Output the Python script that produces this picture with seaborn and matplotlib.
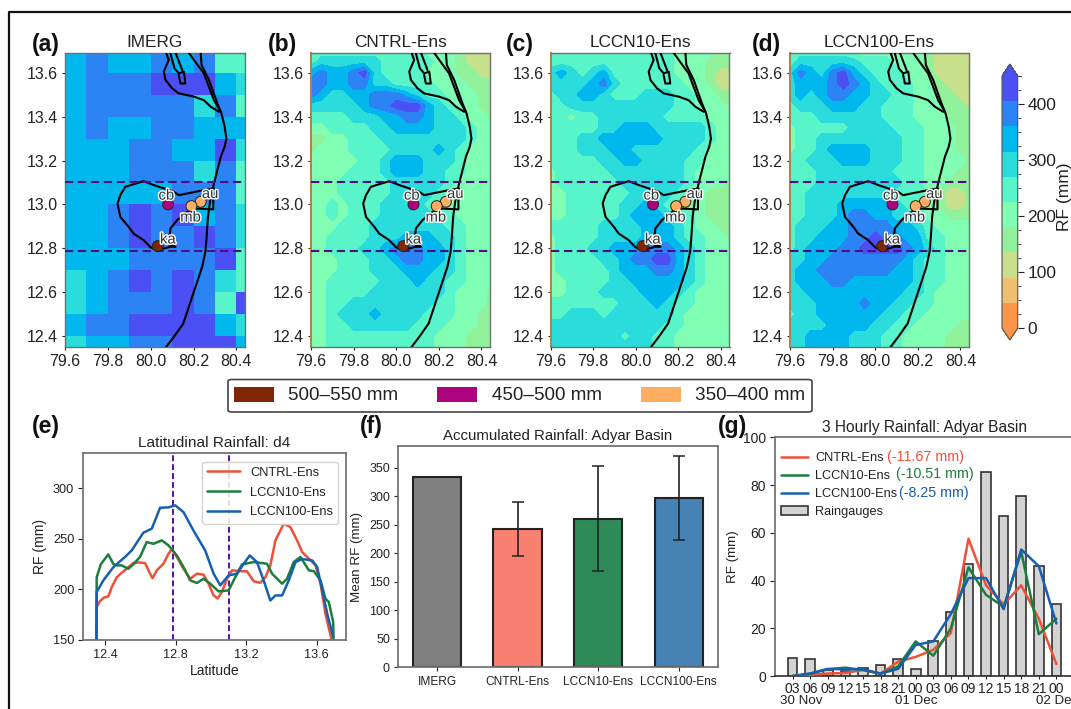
import numpy as np
import matplotlib
matplotlib.use("Agg")
import matplotlib.pyplot as plt
import matplotlib.patheffects as pe
from matplotlib.colors import ListedColormap, BoundaryNorm
from matplotlib.lines import Line2D
from matplotlib.patches import FancyBboxPatch
from matplotlib.ticker import MultipleLocator
import seaborn as sns

# ---------- data ----------
map_levels = [0, 45, 90, 135, 180, 225, 270, 315, 360, 405, 450]
map_colors = ['#FF9548', '#F0C070', '#C8DF8C', '#92F29C', '#80FFB4',
              '#57F5C9', '#2ADCDC', '#00B8EE', '#2C84F4', '#4B50F5']
map_titles = ['IMERG', 'CNTRL-Ens', 'LCCN10-Ens', 'LCCN100-Ens']

imerg_lon_edges = [79.6, 79.7, 79.8, 79.9, 80.0, 80.1, 80.2, 80.3, 80.4, 80.5]
imerg_lat_edges = [13.7, 13.6, 13.5, 13.4, 13.3, 13.2, 13.1, 13.0, 12.9, 12.8, 12.7, 12.6, 12.5, 12.4, 12.3]
imerg_rf = [
    [340, 380, 340, 340, 380, 340, 380, 250, 250],
    [340, 380, 380, 380, 430, 430, 430, 340, 290],
    [340, 380, 380, 380, 380, 380, 290, 380, 250],
    [340, 380, 340, 340, 380, 380, 340, 340, 340],
    [340, 340, 340, 380, 380, 340, 340, 430, 290],
    [340, 340, 340, 380, 380, 380, 290, 380, 250],
    [340, 340, 340, 340, 340, 380, 380, 380, 250],
    [340, 340, 380, 430, 380, 430, 340, 380, 290],
    [340, 340, 380, 430, 380, 380, 430, 380, 290],
    [340, 340, 340, 380, 380, 380, 380, 430, 250],
    [290, 340, 380, 430, 380, 430, 380, 290, 250],
    [290, 340, 380, 380, 380, 430, 380, 250, 430],
    [340, 380, 380, 430, 430, 430, 430, 340, 290],
    [290, 340, 340, 380, 380, 430, 430, 430, 340],
]

# model fields: each digit is the colour-class index of a 0.05 degree cell
grid_lon = [79.6, 79.65, 79.7, 79.75, 79.8, 79.85, 79.9, 79.95, 80.0, 80.05, 80.1, 80.15, 80.2, 80.25, 80.3, 80.35, 80.4, 80.45]
grid_lat = [13.7, 13.65, 13.6, 13.55, 13.5, 13.45, 13.4, 13.35, 13.3, 13.25, 13.2, 13.15, 13.1, 13.05, 13.0, 12.95, 12.9, 12.85, 12.8, 12.75, 12.7, 12.65, 12.6, 12.55, 12.5, 12.45, 12.4, 12.35]
cntrl_classes = [
    "455555555554443222", "566666655555443222", "787789655554443322", "887788665555444333",
    "876677888765544433", "666667889997654433", "555566677887665443", "445555667777666544",
    "334455566666666544", "344455556666765444", "444445567776665444", "444455567776655444",
    "444555556666654444", "444555556666544444", "445455566665544444", "445455566666554444",
    "444555666666655444", "445555666777665444", "445556678887765444", "444555667887765444",
    "444555666777665444", "445555566676655444", "445555666666654443", "445566666666554443",
    "445666766665554433", "445566666655544433", "445555555555444333", "445555555555444333",
]
lccn10_classes = [
    "555555555555444433", "555555555555444333", "676567555555444322", "666678655555544322",
    "566776555666554433", "556666666666554443", "554556666665555444", "555556677766666544",
    "555667777776666544", "555666776666665444", "555556677666655444", "455555666666654444",
    "455555566666654443", "445555556666544333", "445555566765544333", "445555567776554333",
    "555556666777654433", "455556666777655443", "455566777888765444", "455556678899765444",
    "455555677788765444", "445555667777765444", "445556666777654444", "555555566676554444",
    "556665666666544444", "666666666665544444", "666666656655444444", "666666666655444444",
]
lccn100_classes = [
    "455555444444432222", "566666655544432222", "687689765554432222", "677789876555443222",
    "676788776655443322", "566677766555444332", "555666666555444333", "455555666655544433",
    "455666666665544433", "455677776665544433", "556667776665544443", "555666666655544433",
    "555666666665544333", "556666666655543223", "556667777765543223", "556667887766544333",
    "566677888877654444", "566777889887755444", "567778899998765444", "667788888887655444",
    "677888888877655444", "677788777777655444", "667777777776654444", "666777787766554444",
    "566777777665544444", "666677776655444433", "667777666554444333", "667777666554444333",
]

coast_lon = [80.233, 80.2375, 80.272, 80.311, 80.33, 80.345, 80.353, 80.345, 80.327, 80.311, 80.295, 80.28, 80.267, 80.261, 80.255, 80.24, 80.209, 80.178, 80.152, 80.108, 80.072]
coast_lat = [13.691, 13.635, 13.567, 13.46, 13.415, 13.354, 13.30, 13.263, 13.217, 13.156, 13.095, 13.035, 12.943, 12.852, 12.784, 12.715, 12.624, 12.533, 12.457, 12.396, 12.35]
barrier_lon = [80.178, 80.202, 80.248, 80.295, 80.327]
barrier_lat = [13.691, 13.658, 13.597, 13.475, 13.422]
lake_lon = [80.072, 80.084, 80.061, 80.069, 80.1, 80.131, 80.202, 80.248, 80.28, 80.319]
lake_lat = [13.691, 13.658, 13.605, 13.567, 13.529, 13.506, 13.491, 13.475, 13.445, 13.422]
island_lon = [80.092, 80.111, 80.131, 80.155, 80.162, 80.139, 80.131]
island_lat = [13.688, 13.62, 13.597, 13.605, 13.551, 13.551, 13.589]
island2_lon = [80.116, 80.147]
island2_lat = [13.691, 13.612]
basin_lon = [80.295, 80.233, 80.186, 80.131, 80.108, 80.061, 80.014, 79.967, 79.92, 79.881, 79.858, 79.845, 79.858, 79.897, 79.92, 79.967, 80.0, 80.03, 80.092, 80.116, 80.084, 80.092, 80.123, 80.17, 80.217, 80.292, 80.292]
basin_lat = [13.073, 13.062, 13.053, 13.042, 13.057, 13.073, 13.088, 13.106, 13.092, 13.08, 13.042, 13.004, 12.943, 12.898, 12.867, 12.837, 12.804, 12.791, 12.807, 12.807, 12.819, 12.89, 12.928, 12.966, 12.981, 12.977, 13.05]

station_names = ['cb', 'au', 'mb', 'ka']
station_lon = [80.081, 80.233, 80.19, 80.033]
station_lat = [13.0, 13.012, 12.992, 12.81]
station_colors = ['#AE017E', '#FDAE61', '#FDAE61', '#7F2704']
label_lon = [80.073, 80.277, 80.186, 80.08]
label_lat = [13.04, 13.047, 12.94, 12.84]
basin_south, basin_north = 12.787, 13.1

legend_labels = ['500–550 mm', '450–500 mm', '350–400 mm']
legend_colors = ['#7F2704', '#AE017E', '#FDAE61']

cntrl_lat = [12.35, 12.351, 12.37, 12.392, 12.417, 12.436, 12.465, 12.493, 12.521, 12.559, 12.588, 12.626, 12.645, 12.668, 12.692, 12.73, 12.759, 12.778, 12.806, 12.844, 12.882, 12.92, 12.958, 12.986, 13.015, 13.038, 13.062, 13.091, 13.119, 13.167, 13.205, 13.243, 13.28, 13.309, 13.337, 13.366, 13.413, 13.451, 13.489, 13.518, 13.556, 13.594, 13.622, 13.65, 13.685]
cntrl_line = [150, 182.6, 188.5, 191.8, 193, 202, 212, 216.4, 220.4, 226, 226.6, 226, 218.8, 211, 218.8, 225.3, 235.2, 240, 232, 220.4, 210.5, 215.5, 214.5, 205.6, 194, 191, 197.4, 210.5, 218.8, 218, 217.8, 208, 206.6, 212, 223.7, 248.4, 264.8, 261.5, 248.4, 236.8, 230.3, 223.7, 205.6, 176, 150]
lccn10_lat = [12.35, 12.351, 12.375, 12.417, 12.446, 12.465, 12.493, 12.531, 12.559, 12.597, 12.635, 12.673, 12.721, 12.759, 12.806, 12.844, 12.882, 12.92, 12.958, 12.996, 13.043, 13.1, 13.138, 13.176, 13.243, 13.318, 13.347, 13.404, 13.432, 13.47, 13.508, 13.556, 13.584, 13.622, 13.65, 13.669, 13.694, 13.696]
lccn10_line = [150, 212, 225, 234.5, 225, 223.7, 223.7, 220.4, 224.7, 232, 246.7, 245, 248.4, 243.4, 233.5, 222, 208.9, 206.3, 210.5, 205.6, 198, 199, 212, 224.7, 227, 225.3, 215.5, 205.6, 210.5, 227, 232, 218.8, 218, 209, 190.8, 187.5, 167.8, 150]
lccn100_lat = [12.35, 12.351, 12.389, 12.446, 12.512, 12.55, 12.616, 12.664, 12.711, 12.759, 12.797, 12.844, 12.901, 12.967, 13.015, 13.053, 13.1, 13.148, 13.186, 13.22, 13.261, 13.299, 13.337, 13.366, 13.404, 13.442, 13.48, 13.518, 13.575, 13.603, 13.632, 13.66, 13.694]
lccn100_line = [150, 197.4, 208.9, 222, 232, 238.5, 256, 260, 280.6, 281, 283, 276.3, 258, 238.5, 215.5, 204, 213.8, 215.5, 225.3, 233.5, 227, 209, 189, 194, 194, 209, 227, 230, 228.6, 222, 199, 176, 153]

bar_names = ['IMERG', 'CNTRL-Ens', 'LCCN10-Ens', 'LCCN100-Ens']
bar_means = [334, 243, 261, 297]
bar_low = [334, 195, 169, 223]
bar_high = [334, 290, 353, 371]
bar_colors = ['#808080', '#FA8072', '#2E8B57', '#4682B4']

hours = ['03', '06', '09', '12', '15', '18', '21', '00', '03', '06', '09', '12', '15', '18', '21', '00']
time_index = list(range(16))
gauges = [7.5, 7, 2.5, 2, 3.5, 4.5, 7, 3, 14.5, 27, 47, 85.5, 67, 75.5, 46, 30]
cntrl_3h = [0, 0.5, 1, 1.3, 2.5, 1, 6, 8, 11, 18, 57.5, 38, 30, 38, 24, 5]
lccn10_3h = [0, 1, 2.8, 3.5, 2.5, 1, 4, 14.5, 8.5, 20, 45.5, 34, 29, 52, 17.5, 24]
lccn100_3h = [0, 1, 3, 2.8, 2.8, 1, 3, 13, 14.5, 26, 41, 41, 28, 53, 46, 22]
bias_labels = ['(-11.67 mm)', '(-10.51 mm)', '(-8.25 mm)']

RED, GREEN, BLUE = '#F0503A', '#1B7F3B', '#1560B0'
TXT = '#222222'
SPINE = '#707070'

# ---------- figure ----------
sns.set_theme(style='ticks')
plt.rcParams['font.family'] = ['Liberation Sans', 'DejaVu Sans']
plt.rcParams['text.color'] = TXT
plt.rcParams['axes.labelcolor'] = TXT
plt.rcParams['xtick.color'] = TXT
plt.rcParams['ytick.color'] = TXT

W, H = 1071, 709
fig = plt.figure(figsize=(W / 100, H / 100), dpi=100)
fig.patch.set_facecolor('white')


def px_axes(left, top, right, bottom):
    return fig.add_axes([left / W, 1 - bottom / H, (right - left) / W, (bottom - top) / H])


def fig_text(x, y, s, **kw):
    fig.text(x / W, 1 - y / H, s, **kw)


def field(rows):
    mid = (np.array(map_levels[:-1]) + np.array(map_levels[1:])) / 2
    return np.array([[mid[int(c)] for c in r] for r in rows])


fig.add_artist(Line2D([8.5 / W, 8.5 / W, 1], [0, 1 - 11.5 / H, 1 - 11.5 / H], color='#111111', lw=1.6))

cmap = ListedColormap(map_colors)
cmap.set_under(map_colors[0])
cmap.set_over(map_colors[-1])
norm = BoundaryNorm(map_levels, cmap.N)

map_boxes = [(65, 245), (311, 490), (550.5, 729.5), (790, 969)]
map_fields = [None, cntrl_classes, lccn10_classes, lccn100_classes]
letters = ['(a)', '(b)', '(c)', '(d)']
letter_x = [32, 268, 506, 752]
cf_last = None
for i, (x0, x1) in enumerate(map_boxes):
    ax = px_axes(x0, 53, x1, 347)
    if map_fields[i] is None:
        ax.pcolormesh(imerg_lon_edges, imerg_lat_edges, np.array(imerg_rf), cmap=cmap, norm=norm)
    else:
        cf_last = ax.contourf(grid_lon, grid_lat, field(map_fields[i]), levels=map_levels,
                              cmap=cmap, norm=norm, extend='both')
    for lo, la in [(coast_lon, coast_lat), (barrier_lon, barrier_lat), (lake_lon, lake_lat),
                   (island_lon, island_lat), (island2_lon, island2_lat), (basin_lon, basin_lat)]:
        ax.plot(lo, la, color='black', lw=1.5, zorder=3)
    for la in (basin_south, basin_north):
        ax.axhline(la, color='#4B0F80', lw=1.5, ls=(0, (4, 2.2)), zorder=4)
    sns.scatterplot(x=station_lon, y=station_lat, hue=station_names, palette=dict(zip(station_names, station_colors)),
                    s=62, edgecolor='#222222', linewidth=0.7, legend=False, ax=ax, zorder=5)
    for n, lo, la in zip(station_names, label_lon, label_lat):
        ax.text(lo, la, n, ha='center', va='center', fontsize=10.7, color='#333333', zorder=6,
                path_effects=[pe.withStroke(linewidth=2, foreground='white')])
    ax.set_xlim(79.6, 80.44)
    ax.set_ylim(12.35, 13.69)
    ax.set_xticks([79.6, 79.8, 80.0, 80.2, 80.4])
    ax.set_yticks([12.4, 12.6, 12.8, 13.0, 13.2, 13.4, 13.6])
    ax.tick_params(labelsize=11.5, length=2.5, width=0.8, pad=2.5)
    for s in ax.spines.values():
        s.set_color(SPINE)
        s.set_linewidth(1)
    if i > 0:
        ax.spines['left'].set_color('#C07A40')
        ax.spines['left'].set_linewidth(1.4)
    ax.set_title(map_titles[i], fontsize=12.4, pad=4.5, color=TXT)
    fig_text(letter_x[i], 44, letters[i], fontsize=16.5, fontweight='bold', va='center', color='#111111')

cax = px_axes(1002, 64, 1017.7, 340)
cb = fig.colorbar(cf_last, cax=cax, extend='both', extendfrac=0.047, ticks=[0, 100, 200, 300, 400])
cb.ax.yaxis.set_minor_locator(MultipleLocator(25))
cb.ax.tick_params(which='major', labelsize=12.5, length=4, width=0.8, pad=3)
cb.ax.tick_params(which='minor', length=2, width=0.6)
cb.outline.set_edgecolor('#555555')
cb.outline.set_linewidth(0.8)
fig_text(1064, 197, 'RF (mm)', fontsize=12.5, rotation=90, ha='center', va='center')

# shared legend box
fig.add_artist(FancyBboxPatch((228 / W, 1 - 412 / H), (812 - 228) / W, (412 - 379.5) / H,
                              boxstyle='round,pad=0,rounding_size=0.004', transform=fig.transFigure,
                              facecolor='white', edgecolor='#444444', lw=1.2, mutation_aspect=H / W))
for x_patch, x_text, lab, col in zip([234, 437, 641], [288.5, 492, 695], legend_labels, legend_colors):
    fig.add_artist(FancyBboxPatch((x_patch / W, 1 - 402 / H), 40 / W, 15 / H, boxstyle='square,pad=0',
                                  transform=fig.transFigure, facecolor=col, edgecolor='none'))
    fig_text(x_text, 395.5, lab, fontsize=13.6, va='center')

# (e)
ax = px_axes(83.3, 452.7, 345.7, 640)
ax.axvline(12.783, color='#5B0F9E', lw=1.4, ls=(0, (3, 1.6)), zorder=1)
ax.axvline(13.1, color='#5B0F9E', lw=1.4, ls=(0, (3, 1.6)), zorder=1)
sns.lineplot(x=cntrl_lat, y=cntrl_line, color=RED, lw=1.8, label='CNTRL-Ens', sort=False, estimator=None, ax=ax)
sns.lineplot(x=lccn10_lat, y=lccn10_line, color=GREEN, lw=1.8, label='LCCN10-Ens', sort=False, estimator=None, ax=ax)
sns.lineplot(x=lccn100_lat, y=lccn100_line, color=BLUE, lw=1.8, label='LCCN100-Ens', sort=False, estimator=None, ax=ax)
ax.set_xlim(12.275, 13.765)
ax.set_ylim(150, 335)
ax.set_xticks([12.4, 12.8, 13.2, 13.6])
ax.set_yticks([150, 200, 250, 300])
ax.tick_params(labelsize=9.2, length=3.5, width=0.8, pad=3)
ax.set_xlabel('Latitude', fontsize=10, labelpad=2)
ax.set_ylabel('RF (mm)', fontsize=10, labelpad=4)
ax.set_title('Latitudinal Rainfall: d4', fontsize=11.1, pad=4, color=TXT)
for s in ax.spines.values():
    s.set_color(SPINE)
ax.legend(loc='upper right', bbox_to_anchor=(0.971, 0.952), borderaxespad=0, fontsize=9.3, labelspacing=0.6,
          handlelength=2.5, frameon=True, framealpha=0.85, edgecolor='#CCCCCC', labelcolor=TXT)
fig_text(32, 427, '(e)', fontsize=16.5, fontweight='bold', va='center', color='#111111')

# (f)
ax = px_axes(398.3, 445.7, 717.7, 667.3)
sns.barplot(x=bar_names, y=bar_means, hue=bar_names, palette=bar_colors, width=0.6, edgecolor='#222222',
            linewidth=1.5, legend=False, errorbar=None, saturation=1, ax=ax)
means = np.array(bar_means[1:])
ax.errorbar([1, 2, 3], means, yerr=[means - np.array(bar_low[1:]), np.array(bar_high[1:]) - means],
            fmt='none', ecolor='#222222', elinewidth=1.2, capsize=4.4, capthick=1.1)
ax.set_xlim(-0.48, 3.484)
ax.set_ylim(0, 389)
ax.set_yticks(range(0, 351, 50))
ax.tick_params(axis='x', labelsize=8.6, length=3, width=0.8, pad=3)
ax.tick_params(axis='y', labelsize=9, length=3, width=0.8, pad=3)
ax.set_ylabel('Mean RF (mm)', fontsize=9.6, labelpad=4)
ax.set_title('Accumulated Rainfall: Adyar Basin', fontsize=10.8, pad=4, color=TXT)
for s in ax.spines.values():
    s.set_color(SPINE)
fig_text(360, 427, '(f)', fontsize=16.5, fontweight='bold', va='center', color='#111111')

# (g)
ax = px_axes(775, 437.3, 1074, 676)
sns.barplot(x=time_index, y=gauges, color='#D3D3D3', width=0.55, edgecolor='#333333', linewidth=1.2,
            saturation=1, errorbar=None, label='Raingauges', ax=ax)
sns.lineplot(x=time_index, y=cntrl_3h, color=RED, lw=1.8, label='CNTRL-Ens', ax=ax, zorder=4)
sns.lineplot(x=time_index, y=lccn10_3h, color=GREEN, lw=1.8, label='LCCN10-Ens', ax=ax, zorder=4)
sns.lineplot(x=time_index, y=lccn100_3h, color=BLUE, lw=1.8, label='LCCN100-Ens', ax=ax, zorder=4)
ax.set_xlim(-1, 16)
ax.set_ylim(0, 100)
ax.set_xticks(time_index)
ax.set_xticklabels(hours)
ax.tick_params(axis='x', labelsize=10, length=2.5, width=0.8, pad=1.5)
ax.tick_params(axis='y', labelsize=10, length=3.5, width=0.8, pad=3)
ax.set_ylabel('RF (mm)', fontsize=9.6, labelpad=3)
ax.set_title('3 Hourly Rainfall: Adyar Basin', fontsize=11.2, pad=3.5, color=TXT)
ax.spines['right'].set_visible(False)
for k in ('left', 'top', 'bottom'):
    ax.spines[k].set_color(SPINE)
ax.spines['bottom'].set_color('#333333')
h, l = ax.get_legend_handles_labels()
lookup = dict(zip(l, h))
order = ['CNTRL-Ens', 'LCCN10-Ens', 'LCCN100-Ens', 'Raingauges']
ax.legend([lookup[k] for k in order], order, loc='upper left', bbox_to_anchor=(0.002, 0.958), borderaxespad=0,
          fontsize=9.2, labelspacing=0.46, handlelength=2.1, handletextpad=0.6, frameon=False, labelcolor=TXT)
for x_t, y_t, lab, col in zip([887, 895.7, 899], [456.7, 474, 492.7], bias_labels, [RED, GREEN, BLUE]):
    fig_text(x_t, y_t, lab, fontsize=10.3, color=col, va='center')
for x_t, lab in zip([801.5, 916, 1056.7], ['30 Nov', '01 Dec', '02 Dec']):
    fig_text(x_t, 701.5, lab, fontsize=9.6, ha='center', va='center')
fig_text(718, 427, '(g)', fontsize=16.5, fontweight='bold', va='center', color='#111111')

fig.savefig('out.png', dpi=100)
